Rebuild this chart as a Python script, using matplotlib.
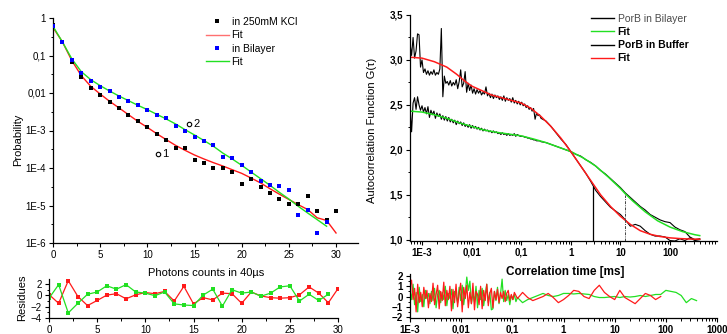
import numpy as np
import matplotlib
matplotlib.use('Agg')
import matplotlib.pyplot as plt
from matplotlib.ticker import FixedLocator, FixedFormatter, NullFormatter, LogLocator
from matplotlib.lines import Line2D

plt.rcParams['font.family'] = ['Liberation Sans', 'DejaVu Sans']

# ---------------- Photon counting histogram (left) ----------------
photons = list(range(31))
p_kcl = [0.66, 0.23, 0.066, 0.026, 0.0135, 0.0087, 0.0059, 0.0040, 0.0026, 0.0018,
         0.00124, 8.1e-4, 5.7e-4, 3.4e-4, 3.4e-4, 1.6e-4, 1.4e-4, 1.0e-4, 1.0e-4, 7.8e-5,
         3.7e-5, 5.2e-5, 3.2e-5, 2.2e-5, 1.5e-5, 1.1e-5, 1.1e-5, 1.8e-5, 7.3e-6, 4.0e-6, 7.3e-6]
p_bil = [0.62, 0.23, 0.077, 0.035, 0.021, 0.0145, 0.011, 0.0080, 0.0063, 0.0047,
         0.0035, 0.0026, 0.0021, 0.00135, 9.7e-4, 6.7e-4, 5.1e-4, 4.0e-4, 1.96e-4, 1.85e-4,
         1.18e-4, 7.8e-5, 4.6e-5, 3.6e-5, 3.4e-5, 2.6e-5, 5.5e-6, 7.4e-6, 1.86e-6, 3.6e-6]
fit_kcl = [0.56, 0.23, 0.073, 0.029, 0.0151, 0.0094, 0.0060, 0.0040, 0.00264, 0.00175,
           0.00121, 8.2e-4, 5.7e-4, 4.0e-4, 2.96e-4, 2.22e-4, 1.74e-4, 1.39e-4, 1.13e-4, 9.0e-5,
           7.2e-5, 5.4e-5, 4.0e-5, 2.8e-5, 2.0e-5, 1.45e-5, 1.05e-5, 7.8e-6, 4.7e-6, 4.0e-6, 1.85e-6]
fit_bil = [0.60, 0.229, 0.081, 0.037, 0.0227, 0.0157, 0.0113, 0.0083, 0.00625, 0.00469,
           0.0036, 0.0027, 0.00203, 0.00149, 0.00105, 7.6e-4, 5.4e-4, 3.8e-4, 2.5e-4, 1.74e-4,
           1.18e-4, 7.8e-5, 5.2e-5, 3.45e-5, 2.24e-5, 1.49e-5, 9.5e-6, 6.3e-6, 4.2e-6, 2.8e-6]
res_kcl = [0.15, -1.4, 2.6, -0.2, -1.8, -0.9, 0.05, 0.3, -0.6, 0.1, 0.5, 0.3, 0.7, -1.0, 1.6,
           -1.5, -0.4, -0.8, 0.4, 0.3, -1.4, 0.6, -0.1, -0.4, -0.5, -0.4, 0.1, 1.5, 0.4, -1.3, 1.2]
res_bil = [-0.5, 1.9, -3.1, -1.4, 0.2, 0.6, 1.7, 1.1, 1.9, 0.6, 0.4, -0.05, 0.6, -1.5, -1.7,
           -1.8, 0.05, 1.1, -1.9, 1.0, 0.4, 0.6, -0.15, 0.4, 1.5, 1.7, -1.0, 0.2, -0.9, 0.2]
marks = {'1': (11.1, 2.4e-4), '2': (14.4, 1.45e-3)}
prob_ticks = [1e-6, 1e-5, 1e-4, 1e-3, 1e-2, 1e-1, 1]
prob_labels = ['1E-6', '1E-5', '1E-4', '1E-3', '0,01', '0,1', '1']

# ---------------- FCS autocorrelation (right) ----------------
# log10(lag time / ms): noisy part from -3.24 in 0.03 steps, smooth part from -0.5 in 0.1 steps
buf_A = [3.18, 3.05, 3.25, 3.02, 3.10, 3.29, 3.28, 2.92, 3.00, 2.86, 2.90, 2.84, 2.88, 2.83, 2.87,
         2.84, 2.89, 2.83, 2.86, 2.84, 2.90, 3.35, 2.59, 2.82, 2.74, 2.76, 2.72, 2.77, 2.71, 2.75,
         2.72, 2.78, 2.68, 2.76, 2.89, 2.70, 2.74, 2.87, 2.64, 2.74, 2.66, 2.72, 2.63, 2.68, 2.62,
         2.67, 2.63, 2.66, 2.61, 2.64, 2.62, 2.70, 2.60, 2.63, 2.58, 2.62, 2.57, 2.61, 2.58, 2.60,
         2.56, 2.59, 2.55, 2.60, 2.54, 2.58, 2.55, 2.57, 2.53, 2.58, 2.52, 2.55, 2.51, 2.54, 2.50,
         2.53, 2.49, 2.51, 2.47, 2.49, 2.45, 2.47, 2.43, 2.46, 2.34, 2.41, 2.38, 2.39, 2.35]
buf_B = [2.32, 2.26, 2.19, 2.12, 2.06, 1.98, 1.90, 1.82, 1.74, 1.65, 1.55, 1.48, 1.42, 1.36, 1.32,
         1.28, 1.22, 1.15, 1.17, 1.15, 1.10, 1.06, 1.04, 1.04, 1.03, 0.99, 0.985, 1.01, 0.99, 1.02,
         0.99, 1.00]
bil_A = [2.48, 2.20, 2.52, 2.58, 2.45, 2.59, 2.50, 2.44, 2.49, 2.42, 2.47, 2.40, 2.48, 2.36, 2.44,
         2.39, 2.43, 2.35, 2.41, 2.37, 2.40, 2.34, 2.38, 2.33, 2.37, 2.32, 2.36, 2.31, 2.34, 2.30,
         2.33, 2.28, 2.32, 2.29, 2.31, 2.27, 2.30, 2.26, 2.28, 2.25, 2.28, 2.24, 2.27, 2.24, 2.26,
         2.23, 2.25, 2.22, 2.24, 2.21, 2.23, 2.21, 2.22, 2.20, 2.21, 2.19, 2.21, 2.19, 2.20, 2.18,
         2.19, 2.17, 2.19, 2.17, 2.18, 2.16, 2.18, 2.16, 2.17, 2.16, 2.18, 2.15, 2.17, 2.16, 2.15,
         2.15, 2.15, 2.14, 2.14, 2.13, 2.13, 2.12, 2.12, 2.11, 2.11, 2.10, 2.10, 2.10, 2.09]
bil_B = [2.08, 2.06, 2.04, 2.02, 2.00, 1.98, 1.95, 1.93, 1.89, 1.86, 1.82, 1.77, 1.73, 1.68, 1.63,
         1.58, 1.52, 1.47, 1.42, 1.37, 1.33, 1.28, 1.25, 1.22, 1.20, 1.19, 1.14, 1.11, 1.09, 1.03,
         1.00, 1.01]
fit_buf_lg = [-3.24, -3.0, -2.75, -2.5, -2.3, -2.15, -2.0, -1.8, -1.6, -1.4, -1.2, -1.0, -0.8, -0.6,
              -0.4, -0.2, 0.0, 0.2, 0.4, 0.6, 0.8, 1.0, 1.2, 1.4, 1.6, 1.8, 2.0, 2.2, 2.4, 2.6]
fit_buf = [3.03, 3.02, 2.98, 2.92, 2.84, 2.77, 2.71, 2.66, 2.61, 2.58, 2.55, 2.52, 2.46, 2.37,
           2.26, 2.13, 1.98, 1.82, 1.66, 1.50, 1.37, 1.26, 1.17, 1.10, 1.06, 1.035, 1.02, 1.012,
           1.007, 1.005]
fit_bil_lg = [-3.24, -3.0, -2.75, -2.5, -2.25, -2.0, -1.75, -1.5, -1.25, -1.0, -0.75, -0.5, -0.25,
              0.0, 0.25, 0.5, 0.75, 1.0, 1.1, 1.25, 1.5, 1.75, 2.0, 2.25, 2.5, 2.6]
fit_bil_g = [2.43, 2.42, 2.39, 2.35, 2.30, 2.26, 2.22, 2.195, 2.175, 2.155, 2.12, 2.08, 2.03,
             1.98, 1.91, 1.82, 1.70, 1.57, 1.51, 1.43, 1.31, 1.21, 1.14, 1.09, 1.055, 1.045]
tau_marks = [2.8, 12.5]       # ms, vertical markers
tau_mark_top = [1.59, 1.50]

# residuals: noisy part from -3.0 in 0.03 steps, smooth part from -0.8 in 0.1 steps
rres_A = [1.0, 1.6, -0.3, 0.8, -1.5, 1.2, -0.6, 0.4, -1.0, 0.9, -0.2, 0.6, -1.1, 0.3, -0.5, 1.3,
          -0.8, 0.2, 1.1, -1.2, 0.5, -0.4, 1.4, -0.9, 0.6, -0.3, 1.0, -1.4, 0.7, -0.6, 1.2, -1.0,
          0.3, 1.3, -1.5, 0.9, -0.2, 1.1, -1.1, 0.4, -0.7, 1.3, -1.3, 0.5, 0.2, -0.8, 1.0, -1.2,
          0.6, -0.4, 1.2, -0.9, 0.3, 0.8, -1.1, 0.5, -0.3, 0.7, -0.6, 0.4, -0.2, 0.5, -0.5, 0.3,
          0.6, -0.4, 0.2, -0.3, 0.4, 0.1, -0.2]
rres_B = [0.4, -0.1, -0.4, -0.2, 0.0, 0.3, -0.1, -0.6, -0.3, 0.1, 0.6, 0.5, 0.0, -0.2, 0.6, 1.1,
          0.4, 0.0, -0.3, 0.6, -0.1, -0.4, -0.7, -0.2, 0.3, 0.1, -0.3, 0.0]
gres_A = [0.6, -0.3, 1.2, -0.8, 0.4, -1.5, 0.9, -0.5, 0.2, -1.0, 0.6, -0.2, 0.3, -0.7, 0.5, -0.4,
          0.8, -1.1, 0.2, 0.6, -0.6, 0.4, -0.3, 1.0, -0.9, 0.3, -0.2, 0.7, -1.2, 0.5, 0.1, -0.6,
          0.9, -0.4, 1.1, -0.8, 0.4, 1.9, 0.6, 1.5, -0.7, 0.3, -0.5, 1.0, -1.1, 0.6, -0.3, 0.8,
          -0.9, 0.2, 1.2, -0.6, 0.4, -1.3, -1.2, 0.5, -0.4, 0.9, -0.7, 0.3, 1.7, -0.5, 0.6, -0.4,
          0.2, -0.8, 0.1, -0.3, 0.2, -0.5, -0.1]
gres_B = [-0.6, -0.3, -0.1, 0.1, 0.3, 0.1, 0.0, 0.1, 0.3, 0.3, 0.25, 0.3, 0.25, 0.2, 0.0, -0.1,
          -0.1, -0.05, 0.0, -0.1, 0.0, -0.05, 0.0, 0.1, 0.0, 0.1, 0.2, 0.2, 0.6, 0.5, 0.4, 0.1,
          -0.6, -0.2, -0.4]
g_ticks = [1.0, 1.5, 2.0, 2.5, 3.0, 3.5]
g_labels = ['1,0', '1,5', '2,0', '2,5', '3,0', '3,5']
t_ticks = [1e-3, 1e-2, 1e-1, 1, 10, 100, 1000]
t_labels = ['1E-3', '0,01', '0,1', '1', '10', '100', '1000']


def lags(start, step, n):
    return 10 ** (start + step * np.arange(n))


RED = '#ff1a1a'
GREEN = '#22e022'
BLUE = '#0000ff'
W, H = 727, 334
fig = plt.figure(figsize=(W / 100, H / 100), dpi=100)


def box(l, t, r, b):
    return [l / W, 1 - b / H, (r - l) / W, (b - t) / H]


def style(ax, bold=False, fs=7):
    for s in ['top', 'right']:
        ax.spines[s].set_visible(False)
    for s in ['left', 'bottom']:
        ax.spines[s].set_linewidth(0.9)
    ax.tick_params(which='major', direction='out', length=3, width=0.8, pad=2, labelsize=fs)
    ax.tick_params(which='minor', direction='out', length=1.8, width=0.7)
    if bold:
        for lab in ax.get_xticklabels() + ax.get_yticklabels():
            lab.set_fontweight('bold')


# ---- left main
ax1 = fig.add_axes(box(53, 18, 358, 243))
ax1.set_yscale('log')
ax1.plot(photons, fit_kcl, color=RED, lw=1.0, zorder=2)
ax1.plot(photons[:len(fit_bil)], fit_bil, color=GREEN, lw=1.0, zorder=2)
ax1.plot(photons, p_kcl, 's', color='k', ms=2.3, mew=0, zorder=3)
ax1.plot(photons[:len(p_bil)], p_bil, 's', color=BLUE, ms=2.3, mew=0, zorder=3)
for k, (mx, my) in marks.items():
    ax1.plot([mx], [my], 'o', mfc='none', mec='k', ms=3.2, mew=0.8)
    ax1.text(mx * 1.02 + 0.2, my, k, fontsize=8, va='center', ha='left')
ax1.set_xlim(0, 32.33)
ax1.set_ylim(1e-6, 1)
ax1.xaxis.set_major_locator(FixedLocator([0, 5, 10, 15, 20, 25, 30]))
ax1.xaxis.set_minor_locator(FixedLocator(np.arange(2.5, 32.4, 5)))
ax1.yaxis.set_major_locator(FixedLocator(prob_ticks))
ax1.yaxis.set_major_formatter(FixedFormatter(prob_labels))
ax1.yaxis.set_minor_locator(FixedLocator([10 ** (k + 0.5) for k in range(-6, 0)]))
ax1.yaxis.set_minor_formatter(NullFormatter())
style(ax1)
h1 = [Line2D([], [], ls='none', marker='s', color='k', ms=2.3, mew=0),
      Line2D([], [], color='#ff7070', lw=1.0),
      Line2D([], [], ls='none', marker='s', color=BLUE, ms=2.3, mew=0),
      Line2D([], [], color=GREEN, lw=1.0)]
ax1.legend(h1, ['in 250mM KCl', 'Fit', 'in Bilayer', 'Fit'], loc='upper left',
           bbox_to_anchor=(206 / W, 1 - 17 / H), bbox_transform=fig.transFigure,
           frameon=False, fontsize=7.5, handlelength=2.2, handletextpad=0.25,
           labelspacing=0.32, borderpad=0, borderaxespad=0)
fig.text(18 / W, 1 - 140 / H, 'Probability', rotation=90, ha='center', va='center', fontsize=8)
fig.text(206 / W, 1 - 273 / H, 'Photons counts in 40µs', ha='center', va='center', fontsize=8)

# ---- left residuals
ax2 = fig.add_axes(box(49, 279, 338, 318))
ax2.plot(photons, res_kcl, color=RED, lw=0.9, marker='s', ms=2.3, mew=0)
ax2.plot(photons[:len(res_bil)], res_bil, color=GREEN, lw=0.9, marker='s', ms=2.3, mew=0)
ax2.set_xlim(0, 30)
ax2.set_ylim(-4, 2.9)
ax2.xaxis.set_major_locator(FixedLocator([0, 5, 10, 15, 20, 25, 30]))
ax2.xaxis.set_minor_locator(FixedLocator(np.arange(2.5, 30, 5)))
ax2.yaxis.set_major_locator(FixedLocator([-4, -2, 0, 2]))
ax2.yaxis.set_minor_locator(FixedLocator([-3, -1, 1]))
style(ax2)
fig.text(22 / W, 1 - 298 / H, 'Residues', rotation=90, ha='center', va='center', fontsize=8)

# ---- right main
ax3 = fig.add_axes(box(410, 15, 717, 241))
ax3.set_xscale('log')
ax3.plot(np.concatenate([lags(-3.24, 0.03, len(bil_A)), lags(-0.5, 0.1, len(bil_B))]),
         np.concatenate([bil_A, bil_B]), color='k', lw=0.8)
ax3.plot(np.concatenate([lags(-3.24, 0.03, len(buf_A)), lags(-0.5, 0.1, len(buf_B))]),
         np.concatenate([buf_A, buf_B]), color='k', lw=0.8)
ax3.plot(10 ** np.array(fit_bil_lg), fit_bil_g, color=GREEN, lw=1.1)
ax3.plot(10 ** np.array(fit_buf_lg), fit_buf, color=RED, lw=1.1)
ax3.plot([tau_marks[0]] * 2, [0.985, tau_mark_top[0]], color='k', lw=0.9)
ax3.plot([tau_marks[1]] * 2, [0.985, tau_mark_top[1]], color='#444444', lw=0.7,
         ls=(0, (3, 1.2, 1, 1.2)))
ax3.set_xlim(10 ** -3.242, 10 ** 2.948)
ax3.set_ylim(0.985, 3.5)
ax3.xaxis.set_major_locator(FixedLocator(t_ticks))
ax3.xaxis.set_major_formatter(FixedFormatter(t_labels))
ax3.xaxis.set_minor_locator(LogLocator(base=10, subs=np.arange(2, 10), numticks=20))
ax3.xaxis.set_minor_formatter(NullFormatter())
ax3.yaxis.set_major_locator(FixedLocator(g_ticks))
ax3.yaxis.set_major_formatter(FixedFormatter(g_labels))
ax3.yaxis.set_minor_locator(FixedLocator([1.25, 1.75, 2.25, 2.75, 3.25]))
style(ax3, bold=True)
h3 = [Line2D([], [], color='k', lw=1.0), Line2D([], [], color=GREEN, lw=1.0),
      Line2D([], [], color='k', lw=1.0), Line2D([], [], color=RED, lw=1.0)]
leg = ax3.legend(h3, ['PorB in Bilayer', 'Fit', 'PorB in Buffer', 'Fit'], loc='upper left',
                 bbox_to_anchor=(591 / W, 1 - 14 / H), bbox_transform=fig.transFigure,
                 frameon=False, fontsize=7.5, handlelength=2.2, handletextpad=0.35,
                 labelspacing=0.3, borderpad=0, borderaxespad=0)
for i, t in enumerate(leg.get_texts()):
    if i == 0:
        t.set_color('#4a4a4a')
    else:
        t.set_fontweight('bold')
fig.text(372 / W, 1 - 130 / H, 'Autocorrelation Function G(τ)', rotation=90,
         ha='center', va='center', fontsize=8)
fig.text(565 / W, 1 - 272 / H, 'Correlation time [ms]', ha='center', va='center',
         fontsize=8.5, fontweight='bold')

# ---- right residuals
ax4 = fig.add_axes(box(410, 274, 717, 318))
ax4.set_xscale('log')
ax4.plot(np.concatenate([lags(-3.0, 0.03, len(gres_A)), lags(-0.8, 0.1, len(gres_B))]),
         np.concatenate([gres_A, gres_B]), color=GREEN, lw=0.9)
ax4.plot(np.concatenate([lags(-3.0, 0.03, len(rres_A)), lags(-0.8, 0.1, len(rres_B))]),
         np.concatenate([rres_A, rres_B]), color=RED, lw=0.9)
ax4.set_xlim(1e-3, 1e3)
ax4.set_ylim(-2.1, 2.2)
ax4.xaxis.set_major_locator(FixedLocator(t_ticks))
ax4.xaxis.set_major_formatter(FixedFormatter(t_labels))
ax4.xaxis.set_minor_locator(LogLocator(base=10, subs=np.arange(2, 10), numticks=20))
ax4.xaxis.set_minor_formatter(NullFormatter())
ax4.yaxis.set_major_locator(FixedLocator([-2, -1, 0, 1, 2]))
ax4.yaxis.set_minor_locator(FixedLocator([-1.5, -0.5, 0.5, 1.5]))
style(ax4, bold=True)

fig.savefig('out.png', dpi=100)
